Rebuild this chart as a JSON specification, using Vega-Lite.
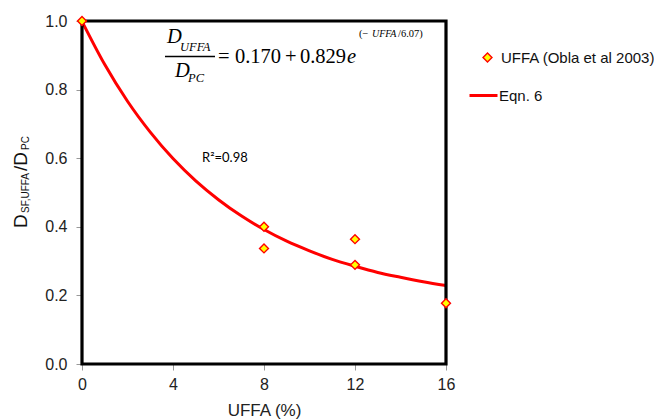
{
  "$schema": "https://vega.github.io/schema/vega-lite/v6.json",
  "width": 364,
  "height": 343,
  "autosize": {"type": "none"},
  "padding": {"left": 82, "top": 21, "right": 208, "bottom": 56},
  "background": "#ffffff",
  "config": {
    "view": {"stroke": null},
    "axis": {
      "grid": false,
      "domain": false,
      "tickColor": "#999999",
      "tickSize": 6,
      "tickWidth": 1,
      "labelFlush": false,
      "labelFont": "Liberation Sans",
      "labelFontSize": 16,
      "labelColor": "#222222",
      "titleFont": "Liberation Sans",
      "titleFontSize": 17,
      "titleFontWeight": "normal",
      "titleColor": "#222222"
    },
    "legend": {
      "labelFont": "Liberation Sans",
      "labelFontSize": 15,
      "labelColor": "#111111",
      "labelLimit": 400,
      "padding": 0
    }
  },
  "datasets": {
    "curve": [
      {"uffa": 0, "ratio": 0.999}, {"uffa": 1, "ratio": 0.873}, {"uffa": 2, "ratio": 0.766},
      {"uffa": 3, "ratio": 0.676}, {"uffa": 4, "ratio": 0.599}, {"uffa": 5, "ratio": 0.534},
      {"uffa": 6, "ratio": 0.479}, {"uffa": 7, "ratio": 0.432}, {"uffa": 8, "ratio": 0.392},
      {"uffa": 9, "ratio": 0.358}, {"uffa": 10, "ratio": 0.330}, {"uffa": 11, "ratio": 0.305},
      {"uffa": 12, "ratio": 0.285}, {"uffa": 13, "ratio": 0.267}, {"uffa": 14, "ratio": 0.253},
      {"uffa": 15, "ratio": 0.240}, {"uffa": 16, "ratio": 0.229}
    ],
    "obs": [
      {"uffa": 0, "ratio": 1.0}, {"uffa": 8, "ratio": 0.40}, {"uffa": 8, "ratio": 0.337},
      {"uffa": 12, "ratio": 0.364}, {"uffa": 12, "ratio": 0.289}, {"uffa": 16, "ratio": 0.177}
    ],
    "eqItalic": [
      {"t": "D", "x": 3.736, "y": 0.9359},
      {"t": "D", "x": 4.088, "y": 0.8367},
      {"t": "e", "x": 11.648, "y": 0.8776}
    ],
    "eqRoman": [
      {"t": "=", "x": 5.978, "y": 0.8776},
      {"t": "0.170", "x": 6.725, "y": 0.8776},
      {"t": "+", "x": 8.923, "y": 0.8776},
      {"t": "0.829", "x": 9.582, "y": 0.8776}
    ],
    "eqSub": [
      {"t": "UFFA", "x": 4.308, "y": 0.9111},
      {"t": "PC", "x": 4.659, "y": 0.8222}
    ],
    "eqSupItalic": [
      {"t": "UFFA", "x": 12.747, "y": 0.9534}
    ],
    "eqSup": [
      {"t": "(−", "x": 12.176, "y": 0.9534},
      {"t": "/6.07)", "x": 13.890, "y": 0.9534}
    ],
    "bar": [{"x1": 3.648, "x2": 5.846, "y": 0.8965}],
    "r2": [{"t": "R²=0.98", "x": 5.275, "y": 0.589}],
    "ytitleBig": [
      {"t": "D", "x": -2.418, "y": 0.3965},
      {"t": "/D", "x": -2.418, "y": 0.5627}
    ],
    "ytitleSmall": [
      {"t": "SF,UFFA", "x": -2.33, "y": 0.4402},
      {"t": "PC", "x": -2.33, "y": 0.6239}
    ]
  },
  "layer": [
    {
      "data": {"name": "curve"},
      "mark": {"type": "line", "strokeWidth": 3, "interpolate": "monotone"},
      "encoding": {
        "x": {"field": "uffa", "type": "quantitative", "scale": {"domain": [0, 16], "nice": false},
              "axis": {"values": [0, 4, 8, 12, 16], "title": "UFFA (%)", "labelPadding": 6, "titlePadding": 10, "labelFlush": false}},
        "y": {"field": "ratio", "type": "quantitative", "scale": {"domain": [0, 1], "nice": false},
              "axis": {"values": [0, 0.2, 0.4, 0.6, 0.8, 1.0], "format": ".1f", "title": null, "labelPadding": 9, "labelFlush": false}},
        "stroke": {"datum": "Eqn. 6", "type": "nominal",
                   "scale": {"domain": ["Eqn. 6"], "range": ["#ff0000"]},
                   "legend": {"title": null, "orient": "none", "legendX": 386, "legendY": 59,
                              "symbolType": "stroke", "symbolSize": 784, "symbolStrokeWidth": 3,
                              "symbolStrokeColor": "#ff0000", "labelOffset": 0}}
      }
    },
    {
      "data": {"values": [{}]},
      "mark": {"type": "rect", "fill": null, "fillOpacity": 0, "stroke": "#000000", "strokeWidth": 3.2},
      "encoding": {
        "x": {"datum": 0, "type": "quantitative"},
        "x2": {"datum": 16},
        "y": {"datum": 0, "type": "quantitative"},
        "y2": {"datum": 1}
      }
    },
    {
      "data": {"name": "obs"},
      "mark": {"type": "point", "shape": "diamond", "filled": true, "stroke": "#ff0000", "strokeWidth": 1.4, "size": 80, "opacity": 1},
      "encoding": {
        "x": {"field": "uffa", "type": "quantitative"},
        "y": {"field": "ratio", "type": "quantitative"},
        "fill": {"datum": "UFFA (Obla et al 2003)", "type": "nominal",
                 "scale": {"domain": ["UFFA (Obla et al 2003)"], "range": ["#ffff00"]},
                 "legend": {"title": null, "orient": "none", "legendX": 398, "legendY": 29,
                            "symbolType": "diamond", "symbolSize": 80, "symbolStrokeColor": "#ff0000",
                            "symbolStrokeWidth": 1.4, "symbolOpacity": 1, "labelOffset": 6}}
      }
    },
    {
      "data": {"name": "eqItalic"},
      "mark": {"type": "text", "font": "Liberation Serif", "fontStyle": "italic", "fontSize": 20.5, "align": "left", "baseline": "alphabetic", "color": "#000000"},
      "encoding": {"x": {"field": "x", "type": "quantitative"}, "y": {"field": "y", "type": "quantitative"}, "text": {"field": "t"}}
    },
    {
      "data": {"name": "eqRoman"},
      "mark": {"type": "text", "font": "Liberation Serif", "fontSize": 20.5, "align": "left", "baseline": "alphabetic", "color": "#000000"},
      "encoding": {"x": {"field": "x", "type": "quantitative"}, "y": {"field": "y", "type": "quantitative"}, "text": {"field": "t"}}
    },
    {
      "data": {"name": "eqSub"},
      "mark": {"type": "text", "font": "Liberation Serif", "fontStyle": "italic", "fontSize": 12.5, "align": "left", "baseline": "alphabetic", "color": "#000000"},
      "encoding": {"x": {"field": "x", "type": "quantitative"}, "y": {"field": "y", "type": "quantitative"}, "text": {"field": "t"}}
    },
    {
      "data": {"name": "eqSupItalic"},
      "mark": {"type": "text", "font": "Liberation Serif", "fontStyle": "italic", "fontSize": 10, "align": "left", "baseline": "alphabetic", "color": "#000000"},
      "encoding": {"x": {"field": "x", "type": "quantitative"}, "y": {"field": "y", "type": "quantitative"}, "text": {"field": "t"}}
    },
    {
      "data": {"name": "eqSup"},
      "mark": {"type": "text", "font": "Liberation Serif", "fontSize": 10.5, "align": "left", "baseline": "alphabetic", "color": "#000000"},
      "encoding": {"x": {"field": "x", "type": "quantitative"}, "y": {"field": "y", "type": "quantitative"}, "text": {"field": "t"}}
    },
    {
      "data": {"name": "bar"},
      "mark": {"type": "rule", "strokeWidth": 1.3, "color": "#000000"},
      "encoding": {"x": {"field": "x1", "type": "quantitative"}, "x2": {"field": "x2"}, "y": {"field": "y", "type": "quantitative"}}
    },
    {
      "data": {"name": "r2"},
      "mark": {"type": "text", "font": "Lato", "fontSize": 13, "align": "left", "baseline": "alphabetic", "color": "#000000"},
      "encoding": {"x": {"field": "x", "type": "quantitative"}, "y": {"field": "y", "type": "quantitative"}, "text": {"field": "t"}}
    },
    {
      "data": {"name": "ytitleBig"},
      "mark": {"type": "text", "font": "Liberation Sans", "fontSize": 19, "angle": 270, "align": "left", "baseline": "alphabetic", "color": "#111111"},
      "encoding": {"x": {"field": "x", "type": "quantitative"}, "y": {"field": "y", "type": "quantitative"}, "text": {"field": "t"}}
    },
    {
      "data": {"name": "ytitleSmall"},
      "mark": {"type": "text", "font": "Liberation Sans", "fontSize": 10, "angle": 270, "align": "left", "baseline": "alphabetic", "color": "#111111"},
      "encoding": {"x": {"field": "x", "type": "quantitative"}, "y": {"field": "y", "type": "quantitative"}, "text": {"field": "t"}}
    }
  ]
}
